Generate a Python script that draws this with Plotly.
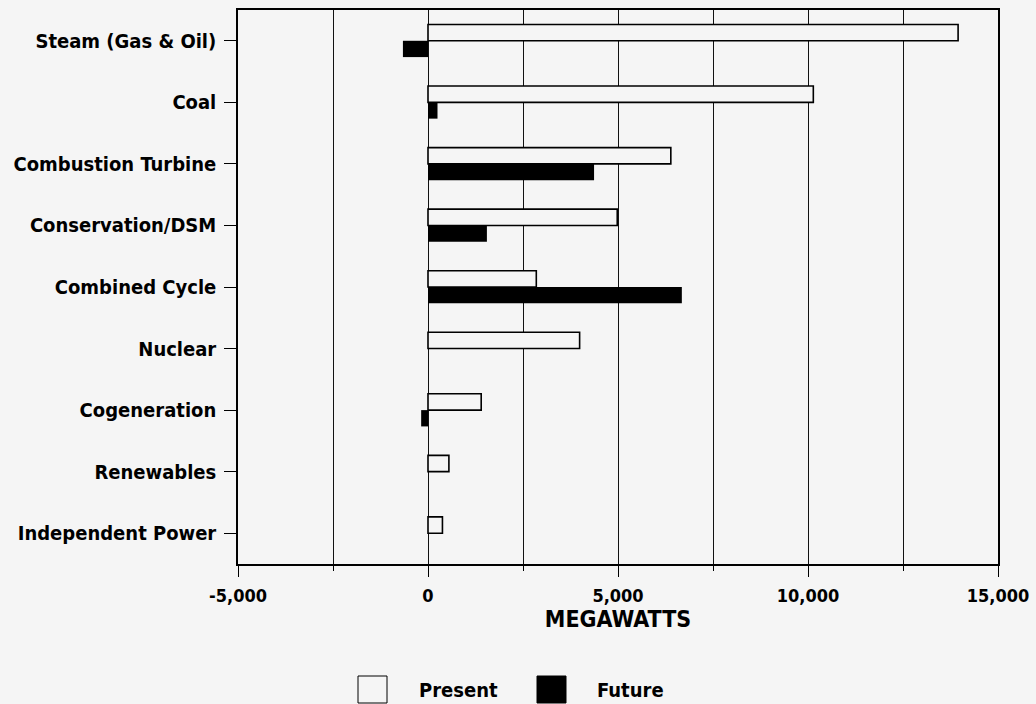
import plotly.graph_objects as go

categories = ["Steam (Gas & Oil)", "Coal", "Combustion Turbine", "Conservation/DSM",
              "Combined Cycle", "Nuclear", "Cogeneration", "Renewables", "Independent Power"]
present = [13950, 10140, 6390, 4980, 2850, 3990, 1400, 550, 380]
future = [-660, 250, 4370, 1550, 6680, 0, -180, 0, 0]
series_names = ["Present", "Future"]
x_tickvals = [-5000, 0, 5000, 10000, 15000]
x_ticktext = ["-5,000", "0", "5,000", "10,000", "15,000"]
x_title = "MEGAWATTS"

FONT = "DejaVu Sans Condensed, Liberation Sans, Arial, sans-serif"
BG = "#f5f5f5"

fig = go.Figure()
fig.add_trace(go.Bar(y=categories, x=present, orientation="h", name=series_names[0],
                     marker=dict(color=BG, line=dict(color="black", width=1.6)),
                     showlegend=False))
fig.add_trace(go.Bar(y=categories, x=future, orientation="h", name=series_names[1],
                     marker=dict(color="black", line=dict(width=0)),
                     showlegend=False))

fig.update_layout(
    width=1036, height=704,
    margin=dict(l=238, r=38, t=10, b=140, autoexpand=False),
    paper_bgcolor=BG, plot_bgcolor=BG,
    barmode="group", bargap=0.47, bargroupgap=0,
    font=dict(family=FONT, color="black"),
)
fig.update_xaxes(
    range=[-5000, 15000], tickvals=x_tickvals, ticktext=x_ticktext,
    showgrid=True, gridcolor="#111", gridwidth=1,
    minor=dict(dtick=2500, tick0=0, showgrid=True, gridcolor="#111", gridwidth=1,
               ticks="outside", ticklen=5, tickcolor="black"),
    ticks="outside", ticklen=11, tickcolor="black",
    showline=True, linecolor="black", linewidth=1.5, mirror=True,
    zeroline=False, automargin=False,
    tickfont=dict(size=18, family=FONT, weight="bold"),
    ticklabelstandoff=4,
    title=dict(text=x_title, font=dict(size=23, family=FONT, weight="bold"), standoff=4),
)
fig.update_yaxes(
    categoryorder="array", categoryarray=categories, autorange="reversed",
    ticks="outside", ticklen=12, tickcolor="black",
    showline=True, linecolor="black", linewidth=1.5, mirror=True,
    showgrid=False, automargin=False,
    tickfont=dict(size=20, family=FONT, weight="bold"),
    ticklabelstandoff=4,
)

# Manual legend (large swatches like the reference)
def px_x(p):
    return (p - 238) / 760.0

def px_y(p):
    return (564 - p) / 554.0

legend_items = [
    (series_names[0], BG, 358, 417),
    (series_names[1], "black", 537, 595),
]
for name, fill, sx, tx in legend_items:
    fig.add_shape(type="rect", xref="paper", yref="paper",
                  x0=px_x(sx), x1=px_x(sx + 29), y0=px_y(676), y1=px_y(703),
                  fillcolor=fill, line=dict(color="black", width=1))
    fig.add_annotation(text=name, xref="paper", yref="paper",
                       x=px_x(tx), y=px_y(690), xanchor="left", yanchor="middle",
                       showarrow=False,
                       font=dict(size=20, family=FONT, weight="bold", color="black"))

fig.write_html("out.html", config={"displayModeBar": False},
               post_script="document.body.style.margin='0';")
